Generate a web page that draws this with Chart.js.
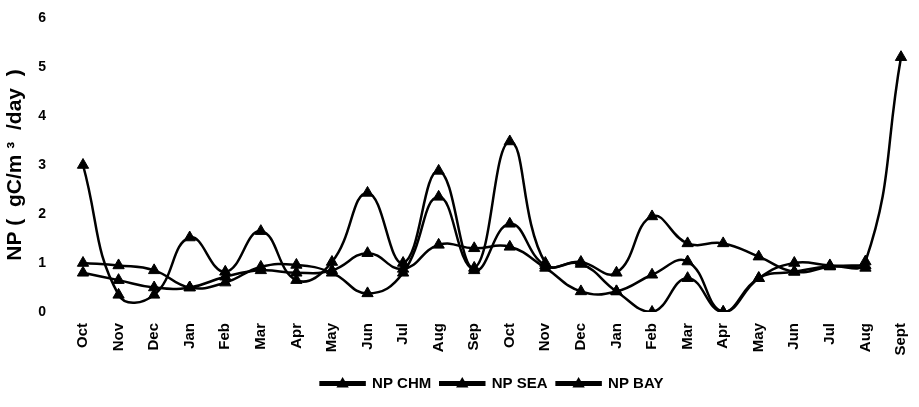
<!DOCTYPE html>
<html>
<head>
<meta charset="utf-8">
<script src="https://cdn.jsdelivr.net/npm/chart.js@4"></script>
<style>
    html, body { margin: 0; padding: 0; background: #fff; }
    #wrap { width: 919px; height: 407px; }
</style>
</head>
<body>
<div id="wrap"><canvas id="np-chart"></canvas></div>
<script>
// ─── Data ────────────────────────────────────────────────────────────────────

const months = ['Oct', 'Nov', 'Dec', 'Jan', 'Feb', 'Mar', 'Apr', 'May', 'Jun', 'Jul', 'Aug', 'Sep',
                'Oct', 'Nov', 'Dec', 'Jan', 'Feb', 'Mar', 'Apr', 'May', 'Jun', 'Jul', 'Aug', 'Sept'];

const npChm = [3.0, 0.35, 0.35, 1.52, 0.82, 1.65, 0.65, 1.02, 2.43, 1.0, 2.88, 0.9,
               3.48, 1.0, 1.02, 0.8, 1.95, 1.4, 1.4, 1.13, 0.82, 0.93, 1.03, 5.2];
const npSea = [1.0, 0.95, 0.85, 0.5, 0.6, 0.92, 0.96, 0.8, 0.38, 0.8, 2.35, 0.85,
               1.8, 0.95, 0.98, 0.42, 0.0, 0.69, 0.0, 0.69, 1.0, 0.95, 0.95, null];
const npBay = [0.8, 0.65, 0.5, 0.5, 0.72, 0.85, 0.8, 0.85, 1.2, 0.88, 1.37, 1.3,
               1.33, 0.9, 0.42, 0.42, 0.76, 1.03, 0.0, 0.69, 0.82, 0.93, 0.9, null];

const seriesNames = ['NP CHM', 'NP SEA', 'NP BAY'];
const yTicks = [0, 1, 2, 3, 4, 5, 6];

// ─── Chart ───────────────────────────────────────────────────────────────────

const FONT = 'Liberation Sans, Arial, sans-serif';
const CLEAR = 'rgba(0,0,0,0)';

const line = (label, data) => ({
    label, data,
    borderColor: '#000', backgroundColor: '#000',
    borderWidth: 2.5, tension: 0.45,
    pointStyle: 'triangle', pointRadius: 6.5, pointBorderWidth: 1,
    pointBackgroundColor: '#000', pointBorderColor: '#000',
});

// legend shows a line with a triangle on it
const legendTriangles = {
    id: 'legendTriangles',
    afterDraw(chart) {
        const lg = chart.legend;
        if (!lg || !lg.legendHitBoxes) return;
        const ctx = chart.ctx;
        const bw = lg.options.labels.boxWidth;
        ctx.save();
        ctx.fillStyle = '#000';
        lg.legendHitBoxes.forEach(b => {
            const cx = b.left + bw / 2, cy = b.top + b.height / 2;
            const r = 6.5;
            ctx.beginPath();
            ctx.moveTo(cx, cy - r);
            ctx.lineTo(cx + r * 0.95, cy + r * 0.6);
            ctx.lineTo(cx - r * 0.95, cy + r * 0.6);
            ctx.closePath();
            ctx.fill();
        });
        ctx.restore();
    },
};

new Chart(document.getElementById('np-chart').getContext('2d'), {
    type: 'line',
    data: {
        labels: months,
        datasets: [
            line(seriesNames[0], npChm),
            line(seriesNames[1], npSea),
            line(seriesNames[2], npBay),
        ],
    },
    options: {
        responsive: true,
        maintainAspectRatio: false,
        animation: false,
        layout: { padding: { top: 18, right: 0, bottom: 6, left: 0 } },
        plugins: {
            tooltip: { enabled: false },
            legend: {
                position: 'bottom',
                fullSize: false,
                labels: {
                    color: '#000',
                    font: { family: FONT, size: 15, weight: 'bold' },
                    boxWidth: 44, boxHeight: 2.5, padding: 9,
                },
            },
        },
        scales: {
            x: {
                offset: false,
                // invisible tick marks keep the labels off the plot
                grid: { display: true, drawOnChartArea: false, drawTicks: true, tickLength: 11, color: CLEAR, tickColor: CLEAR },
                border: { display: false },
                ticks: {
                    color: '#000', autoSkip: false,
                    minRotation: 90, maxRotation: 90, padding: 0,
                    font: { family: FONT, size: 15, weight: 'bold' },
                },
                afterFit: s => { s.height = 55; },
            },
            y: {
                min: 0, max: 6,
                afterBuildTicks: s => { s.ticks = yTicks.map(v => ({ value: v })); },
                grid: { display: true, drawOnChartArea: false, drawTicks: true, tickLength: 34, color: CLEAR, tickColor: CLEAR },
                border: { display: false },
                ticks: {
                    color: '#000', padding: 3,
                    font: { family: FONT, size: 14, weight: 'bold' },
                },
                title: {
                    display: true,
                    text: 'NP (  gC/m \u00B3  /day  )',
                    color: '#000', padding: 3,
                    font: { family: FONT, size: 21, weight: 'bold' },
                },
                afterFit: s => { s.width = 83; },
            },
        },
    },
    plugins: [legendTriangles],
});
</script>
</body>
</html>
